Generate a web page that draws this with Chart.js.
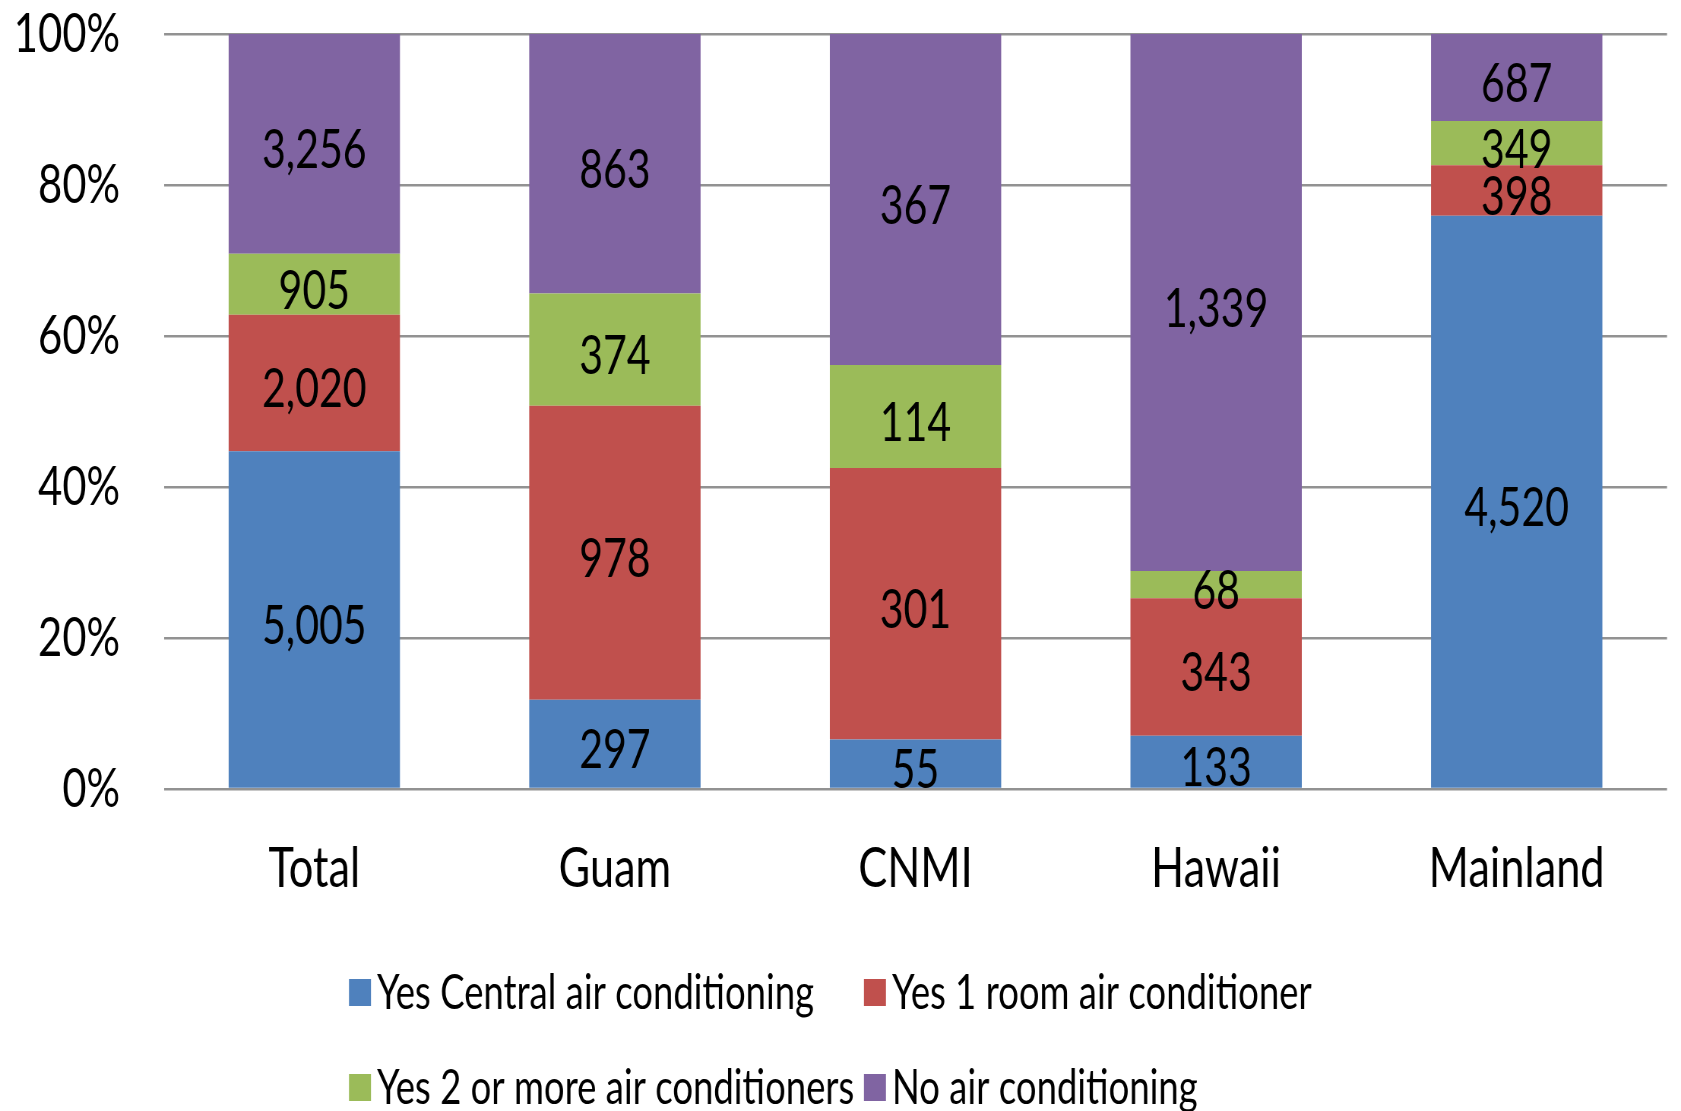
<!DOCTYPE html>
<html>
<head>
<meta charset="utf-8">
<script src="https://cdn.jsdelivr.net/npm/chart.js@4/dist/chart.umd.min.js"></script>
<style>
  html, body { margin: 0; padding: 0; background: #fff; overflow: hidden; }
  #chart { display: block; }
</style>
</head>
<body>
<canvas id="chart"></canvas>
<script>
// categories and household counts per air-conditioning type
const regions = ['Total', 'Guam', 'CNMI', 'Hawaii', 'Mainland'];
const centralAC = [5005, 297, 55, 133, 4520];
const oneRoomAC = [2020, 978, 301, 343, 398];
const twoPlusAC = [905, 374, 114, 68, 349];
const noAC = [3256, 863, 367, 1339, 687];
const yTicks = [0, 20, 40, 60, 80, 100];

const FONT = 'Lato, "Open Sans", sans-serif';

// the original is horizontally squeezed; draw wider and let css squeeze it back
const K = 0.76;
const canvas = document.getElementById('chart');
canvas.width = Math.round(1681 / K);
canvas.height = 1111;
canvas.style.width = '1681px';
canvas.style.height = '1111px';

const series = [
  { label: 'Yes Central air conditioning', counts: centralAC, color: '#4F81BD' },
  { label: 'Yes 1 room air conditioner', counts: oneRoomAC, color: '#C0504D' },
  { label: 'Yes 2 or more air conditioners', counts: twoPlusAC, color: '#9BBB59' },
  { label: 'No air conditioning', counts: noAC, color: '#8064A2' }
];

// share of each region's total, 100% stacked
const totals = regions.map((r, i) => series.reduce((s, d) => s + d.counts[i], 0));

const datasets = series.map(s => ({
  label: s.label,
  data: s.counts.map((v, i) => v / totals[i] * 100),
  counts: s.counts,
  backgroundColor: s.color,
  borderWidth: 0,
  categoryPercentage: 1.0,
  barPercentage: 0.57
}));

// count labels in the middle of each segment
const segmentLabels = {
  id: 'segmentLabels',
  afterDatasetsDraw(chart) {
    const ctx = chart.ctx;
    ctx.save();
    ctx.font = '54px ' + FONT;
    ctx.fillStyle = '#000';
    ctx.textAlign = 'center';
    ctx.textBaseline = 'middle';
    chart.data.datasets.forEach((ds, di) => {
      chart.getDatasetMeta(di).data.forEach((bar, i) => {
        const y = (bar.y + bar.base) / 2 + 7;
        ctx.fillText(ds.counts[i].toLocaleString('en-US'), bar.x, y);
      });
    });
    ctx.restore();
  }
};

// two-column legend like the original
const gridLegend = {
  id: 'gridLegend',
  afterDraw(chart) {
    const ctx = chart.ctx;
    const cols = [349 / K, 864 / K];
    const rows = [993, 1088];
    ctx.save();
    ctx.font = '48px ' + FONT;
    ctx.textBaseline = 'middle';
    ctx.textAlign = 'left';
    series.forEach((s, i) => {
      const x = cols[i % 2], y = rows[Math.floor(i / 2)];
      ctx.fillStyle = s.color;
      ctx.fillRect(x, y - 14, 22 / K, 27);
      ctx.fillStyle = '#000';
      ctx.fillText(s.label, x + 28 / K, y + 1);
    });
    ctx.restore();
  }
};

new Chart(canvas, {
  type: 'bar',
  data: { labels: regions, datasets: datasets },
  options: {
    responsive: false,
    animation: false,
    devicePixelRatio: 1,
    layout: { padding: { top: 34, right: 14 / K, left: 0, bottom: 0 } },
    plugins: {
      legend: { display: false },
      tooltip: { enabled: false }
    },
    scales: {
      x: {
        stacked: true,
        grid: { display: false, drawTicks: false },
        border: { display: false },
        ticks: { color: '#000', font: { family: FONT, size: 57 }, padding: 45 },
        afterFit(scale) {
          scale.height = 322;
          scale.paddingLeft = 0;
          scale.paddingRight = 0;
        }
      },
      y: {
        stacked: true,
        min: 0,
        max: 100,
        afterBuildTicks(scale) { scale.ticks = yTicks.map(v => ({ value: v })); },
        grid: { color: '#929292', lineWidth: 2.5, drawTicks: false },
        border: { display: false },
        ticks: {
          color: '#000',
          font: { family: FONT, size: 55 },
          padding: 44 / K,
          callback: v => v + '%'
        },
        afterFit(scale) {
          scale.width = 164 / K;
          scale.paddingTop = 0;
          scale.paddingBottom = 0;
        }
      }
    }
  },
  plugins: [segmentLabels, gridLegend]
});
</script>
</body>
</html>
